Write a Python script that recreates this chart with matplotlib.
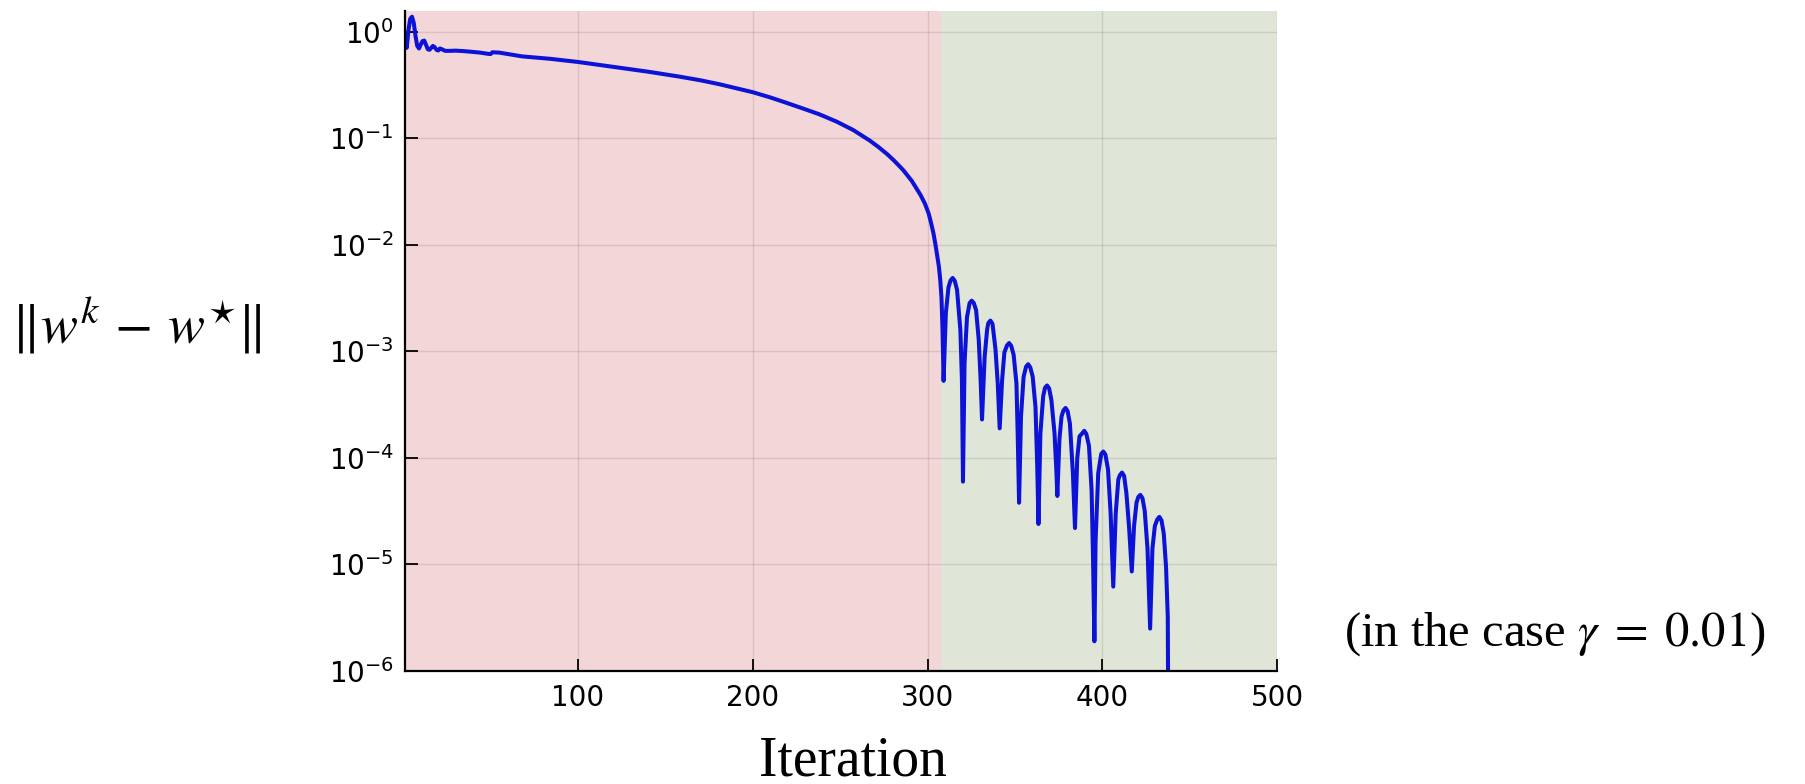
import matplotlib
matplotlib.use("Agg")
import matplotlib.pyplot as plt          # noqa: E402
from matplotlib.ticker import LogLocator, NullLocator, FixedLocator  # noqa: E402

plt.rcParams["mathtext.fontset"] = "stix"

# distance to the solution (iteration, ||w^k - w*||)
iteration = [1, 2, 3, 4, 5, 6, 7, 8, 9, 10, 11, 12, 13, 14, 15, 16, 17, 18, 19, 20,
             21, 22, 24, 27, 30, 34, 38, 44, 49, 50, 51, 55, 68, 84,
             100, 120, 140, 158, 170, 181, 190, 200, 210, 219, 228, 238, 248, 257.5,
             267, 272, 277, 281, 286, 291, 296, 298.5, 300.6, 302, 303.4, 304.5,
             305.5, 306.5, 307.3, 308, 308.6,
             309.2, 310.5, 312.0, 313.2, 314.4, 315.6, 316.9, 318.8, 319.7,
             320.3, 321.2, 322.6, 324.1, 325.3, 326.5, 327.8, 329.3, 330.4,
             331.2, 332.7, 334.1, 334.8, 336.0, 337.2, 338.9, 340.2,
             341.3, 342.7, 344.0, 345.5, 346.7, 347.9, 349.3, 350.9, 351.6,
             352.4, 353.5, 355.0, 356.4, 357.6, 358.8, 360.2, 361.8, 362.8,
             363.5, 364.6, 366.2, 367.2, 368.4, 369.6, 370.9, 372.7, 373.8,
             374.3, 375.5, 376.7, 377.8, 379.0, 380.2, 381.5, 383.2,
             384.4, 385.7, 387.0, 388.5, 389.7, 390.9, 392.4, 393.9, 394.7,
             395.5, 396.2, 397.7, 399.4, 400.6, 401.8, 403.3, 404.8,
             406.3, 407.7, 409.2, 410.1, 411.3, 412.5, 413.8, 415.3,
             416.9, 418.2, 419.6, 420.6, 421.8, 423.0, 424.3, 425.9,
             427.4, 428.7, 430.1, 431.5, 432.7, 433.9, 435.2, 436.5, 437.5, 438.2]
error = [0.98, 0.71, 1.05, 1.33, 1.39, 1.22, 0.92, 0.74, 0.70, 0.76, 0.82, 0.83, 0.76,
         0.69, 0.68, 0.71, 0.74, 0.72, 0.68, 0.67, 0.70, 0.69, 0.665, 0.665, 0.668,
         0.662, 0.654, 0.64, 0.622, 0.621, 0.645, 0.64, 0.59, 0.56,
         0.523, 0.471, 0.424, 0.381, 0.352, 0.323, 0.298, 0.272, 0.243, 0.217, 0.193,
         0.169, 0.144, 0.120,
         0.0955, 0.083, 0.0711, 0.0617, 0.0507, 0.040, 0.0295, 0.0245, 0.0199, 0.0162,
         0.0129, 0.0102, 0.0080, 0.0063, 4.7e-3, 3.2e-3, 1.6e-3,
         5.3e-4, 2.3e-3, 4.0e-3, 4.65e-3, 4.9e-3, 4.6e-3, 3.8e-3, 1.6e-3, 5.4e-4,
         6.0e-5, 7.8e-4, 2.1e-3, 2.85e-3, 3.0e-3, 2.85e-3, 2.45e-3, 1.3e-3, 5.4e-4,
         2.3e-4, 8.9e-4, 1.6e-3, 1.85e-3, 1.95e-3, 1.82e-3, 1.05e-3, 5.0e-4,
         1.9e-4, 5.4e-4, 9.8e-4, 1.14e-3, 1.2e-3, 1.13e-3, 9.3e-4, 5.0e-4, 1.7e-4,
         3.8e-5, 2.45e-4, 5.8e-4, 7.2e-4, 7.6e-4, 7.1e-4, 5.8e-4, 3.0e-4, 8.3e-5,
         2.4e-5, 1.7e-4, 3.8e-4, 4.55e-4, 4.8e-4, 4.5e-4, 3.5e-4, 1.7e-4, 7.2e-5,
         4.4e-5, 1.5e-4, 2.45e-4, 2.8e-4, 2.95e-4, 2.75e-4, 2.1e-4, 7.2e-5,
         2.2e-5, 1.0e-4, 1.6e-4, 1.7e-4, 1.8e-4, 1.68e-4, 1.3e-4, 5.0e-5, 1.2e-5,
         1.9e-6, 1.7e-5, 7.2e-5, 1.09e-4, 1.15e-4, 1.08e-4, 7.8e-5, 3.0e-5,
         6.2e-6, 3.0e-5, 6.3e-5, 6.9e-5, 7.3e-5, 6.8e-5, 4.7e-5, 2.3e-5,
         8.6e-6, 2.3e-5, 3.8e-5, 4.3e-5, 4.5e-5, 4.2e-5, 3.2e-5, 1.4e-5,
         2.5e-6, 1.4e-5, 2.3e-5, 2.65e-5, 2.8e-5, 2.6e-5, 1.95e-5, 9.5e-6, 3.2e-6, 1e-8]

# two phases shaded behind the curve
phase_start = [1, 308]
phase_end = [308, 500]
phase_colors = ["#f2d6d8", "#dfe6d7"]

x_ticks = [100, 200, 300, 400, 500]

fig = plt.figure(figsize=(18.05, 7.84), dpi=100)
ax = fig.add_axes([405 / 1805, 1 - 671 / 784, 872 / 1805, 660 / 784])

for a, b, c in zip(phase_start, phase_end, phase_colors):
    ax.axvspan(a, b, color=c, lw=0, zorder=0)

ax.plot(iteration, error, color="#0c12d6", lw=2.9, zorder=3, solid_joinstyle="round",
        solid_capstyle="round")

ax.set_yscale("log")
ax.set_xlim(1, 500)
ax.set_ylim(1e-6, 10 ** 0.197)
ax.yaxis.set_major_locator(LogLocator(base=10, numticks=12))
ax.yaxis.set_minor_locator(NullLocator())
ax.xaxis.set_major_locator(FixedLocator(x_ticks))
ax.grid(True, color="k", alpha=0.1, lw=1)
ax.set_axisbelow(False)

for s in ["top", "right"]:
    ax.spines[s].set_visible(False)
for s in ["left", "bottom"]:
    ax.spines[s].set_linewidth(1.6)
    ax.spines[s].set_zorder(4)
ax.tick_params(direction="in", length=9, width=1.3, labelsize=20, pad=9)
ax.tick_params(axis="y", pad=8)

ax.set_xlabel("Iteration", family="Liberation Serif", fontsize=40, va="baseline")
ax.xaxis.set_label_coords(0.514, -0.158)
ax.set_ylabel(r"$\Vert w^k \,-\, w^{\star}\Vert$", fontsize=40, rotation=0,
              ha="center", va="center")
ax.yaxis.set_label_coords(-0.3085, 0.524)
ax.text(1.318, 0.056, r"(in the case $\gamma\;=\;0.01$)", transform=ax.transAxes,
        family="Liberation Serif", fontsize=35, ha="center", va="center", clip_on=False)

fig.savefig("out.png", dpi=100)
